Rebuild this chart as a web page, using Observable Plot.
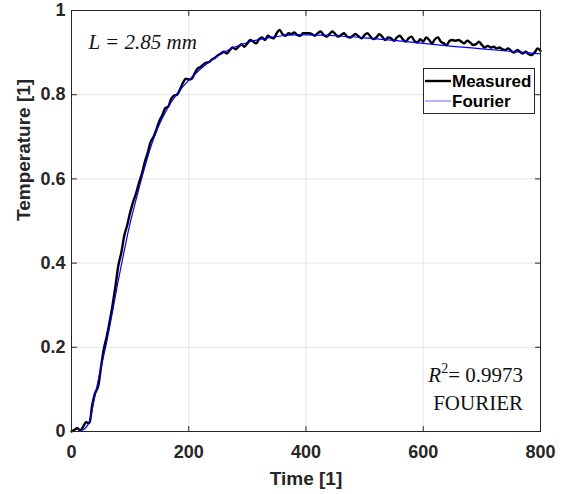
<!DOCTYPE html>
<html>
<head>
<meta charset="utf-8">
<script src="https://cdn.jsdelivr.net/npm/d3@7"></script>
<script src="https://cdn.jsdelivr.net/npm/@observablehq/plot@0.6"></script>
<style>
  html, body { margin: 0; padding: 0; background: #fff; }
  #chart { position: relative; width: 569px; height: 494px; }
</style>
</head>
<body>
<div id="chart"></div>
<script>
// ---- data ----
const xTicks = [0, 200, 400, 600, 800];
const yTicks = [0, 0.2, 0.4, 0.6, 0.8, 1];
const yTickLabels = ["0", "0.2", "0.4", "0.6", "0.8", "1"];

// Fourier fit (smooth)
const fourierT = [0, 10, 20, 30, 40, 50, 60, 70, 80, 90, 100, 110, 120, 130, 140, 150, 160, 170, 180, 190, 200,
  220, 240, 260, 280, 300, 320, 340, 360, 380, 400, 450, 500, 550, 600, 650, 700, 750, 800];
const fourierV = [0, 0.0, 0.004, 0.022, 0.085, 0.15, 0.212, 0.285, 0.36, 0.43, 0.495, 0.55, 0.603, 0.652, 0.695,
  0.73, 0.758, 0.782, 0.802, 0.819, 0.834, 0.861, 0.883, 0.901, 0.914, 0.924, 0.931, 0.936, 0.940, 0.942, 0.942,
  0.940, 0.935, 0.929, 0.922, 0.915, 0.909, 0.903, 0.897];

// Measured (sampled every 5 time units, 0..800)
const measuredV = [
  0.000, 0.004, 0.008, 0.002, 0.012, 0.022, 0.020, 0.060, 0.090, 0.105,
  0.150, 0.195, 0.225, 0.260, 0.300, 0.345, 0.395, 0.425, 0.465, 0.490,
  0.520, 0.545, 0.565, 0.590, 0.612, 0.640, 0.662, 0.688, 0.700, 0.718,
  0.738, 0.752, 0.768, 0.772, 0.790, 0.798, 0.800, 0.812, 0.828, 0.838,
  0.836, 0.838, 0.850, 0.862, 0.866, 0.872, 0.876, 0.878, 0.884, 0.888,
  0.894, 0.898, 0.902, 0.898, 0.906, 0.912, 0.908, 0.914, 0.920, 0.914,
  0.922, 0.930, 0.926, 0.922, 0.932, 0.936, 0.930, 0.940, 0.936, 0.934,
  0.946, 0.954, 0.944, 0.940, 0.946, 0.944, 0.948, 0.942, 0.940, 0.946,
  0.946, 0.946, 0.944, 0.940, 0.946, 0.950, 0.942, 0.938, 0.944, 0.950,
  0.944, 0.938, 0.942, 0.946, 0.938, 0.936, 0.940, 0.944, 0.938, 0.934,
  0.942, 0.946, 0.938, 0.932, 0.936, 0.944, 0.938, 0.930, 0.936, 0.934,
  0.928, 0.936, 0.940, 0.932, 0.926, 0.934, 0.938, 0.928, 0.924, 0.932,
  0.926, 0.936, 0.930, 0.922, 0.932, 0.936, 0.926, 0.922, 0.918, 0.928,
  0.930, 0.928, 0.930, 0.926, 0.922, 0.928, 0.924, 0.918, 0.920, 0.926,
  0.918, 0.912, 0.916, 0.912, 0.914, 0.910, 0.912, 0.908, 0.906, 0.910,
  0.904, 0.900, 0.906, 0.902, 0.898, 0.902, 0.896, 0.894, 0.900, 0.910,
  0.904
];
const measuredT = d3.range(0, 805, 5);

const seriesNames = ["Measured", "Fourier"];
const seriesColors = ["#000000", "#0000ff"];
const annotation1 = "L = 2.85 mm";
const r2Value = "= 0.9973";
const modelName = "FOURIER";

// ---- build ----
const measured = measuredT.map((t, i) => ({t, v: measuredV[i]}));
const fourier = fourierT.map((t, i) => ({t, v: fourierV[i]}));

const axisColor = "#262626";
const tickShape = { draw(ctx, l) { ctx.moveTo(0, 0); ctx.lineTo(0, -l); } };

const chart = Plot.plot({
  width: 569,
  height: 494,
  marginLeft: 71,
  marginRight: 29,
  marginTop: 10,
  marginBottom: 63,
  style: { fontFamily: "'Liberation Sans', Arial, sans-serif", background: "#fff", color: axisColor },
  x: { domain: [0, 800] },
  y: { domain: [0, 1] },
  marks: [
    Plot.gridX(xTicks, { stroke: "#000", strokeOpacity: 0.1 }),
    Plot.gridY(yTicks, { stroke: "#000", strokeOpacity: 0.1 }),
    Plot.axisX(xTicks, { tickSize: 0, tickPadding: 14, fontSize: 18, fontWeight: "bold", label: null }),
    Plot.axisY(yTicks, { tickSize: 0, tickPadding: 6, fontSize: 18, fontWeight: "bold", label: null,
      tickFormat: (d) => yTickLabels[yTicks.indexOf(d)] }),
    // inward tick marks on all four sides
    Plot.vector(xTicks, { x: d => d, y: 0, length: 5, rotate: 0, anchor: "start", shape: tickShape, stroke: axisColor, strokeWidth: 1 }),
    Plot.vector(xTicks, { x: d => d, y: 1, length: 5, rotate: 180, anchor: "start", shape: tickShape, stroke: axisColor, strokeWidth: 1 }),
    Plot.vector(yTicks, { x: 0, y: d => d, length: 5, rotate: 90, anchor: "start", shape: tickShape, stroke: axisColor, strokeWidth: 1 }),
    Plot.vector(yTicks, { x: 800, y: d => d, length: 5, rotate: -90, anchor: "start", shape: tickShape, stroke: axisColor, strokeWidth: 1 }),
    Plot.line(measured, { x: "t", y: "v", stroke: seriesColors[0], strokeWidth: 2.4, curve: "catmull-rom" }),
    Plot.line(fourier, { x: "t", y: "v", stroke: seriesColors[1], strokeWidth: 1.2, curve: "monotone-x" }),
    Plot.frame({ stroke: axisColor, strokeWidth: 1 }),
    Plot.text(["Time [1]"], { frameAnchor: "bottom", dy: 53, text: d => d, fontSize: 19, fontWeight: "bold", fill: axisColor }),
    Plot.text(["Temperature [1]"], { frameAnchor: "left", dx: -48, rotate: -90, text: d => d, fontSize: 19, fontWeight: "bold", fill: axisColor }),
    Plot.text([annotation1], { frameAnchor: "top-left", dx: 17, dy: 24, text: d => d, fontSize: 21,
      fontFamily: "'Liberation Serif', 'Times New Roman', serif", fontStyle: "italic", fill: "#111", textAnchor: "start" })
  ]
});

document.getElementById("chart").appendChild(chart);

// extra annotations: R^2 with superscript and legend box
const svg = d3.select(chart);
const serif = "'Liberation Serif', 'Times New Roman', serif";
const r2 = svg.append("text")
  .attr("x", 523).attr("y", 382)
  .attr("text-anchor", "end")
  .attr("font-family", serif).attr("font-size", 21).attr("fill", "#111");
r2.append("tspan").attr("font-style", "italic").text("R");
r2.append("tspan").attr("font-size", 14).attr("dy", -9).text("2");
r2.append("tspan").attr("dy", 9).text(r2Value);
svg.append("text")
  .attr("x", 523).attr("y", 410)
  .attr("text-anchor", "end")
  .attr("font-family", serif).attr("font-size", 21).attr("fill", "#111")
  .text(modelName);

const lg = svg.append("g").attr("text-anchor", "start");
lg.append("rect").attr("x", 423.5).attr("y", 68.5).attr("width", 111).attr("height", 45)
  .attr("fill", "#fff").attr("stroke", axisColor).attr("stroke-width", 1);
const rows = [81, 101];
const widths = [2.4, 1];
seriesNames.forEach((name, i) => {
  lg.append("line").attr("x1", 425).attr("x2", 451).attr("y1", rows[i]).attr("y2", rows[i])
    .attr("stroke", seriesColors[i]).attr("stroke-width", widths[i]).attr("stroke-opacity", i ? 0.6 : 1);
  lg.append("text").attr("x", 452).attr("y", rows[i] + 6)
    .attr("text-anchor", "start")
    .attr("font-family", "'Liberation Sans', Arial, sans-serif").attr("font-weight", "bold")
    .attr("font-size", 17).attr("fill", "#000").text(name);
});
</script>
</body>
</html>
